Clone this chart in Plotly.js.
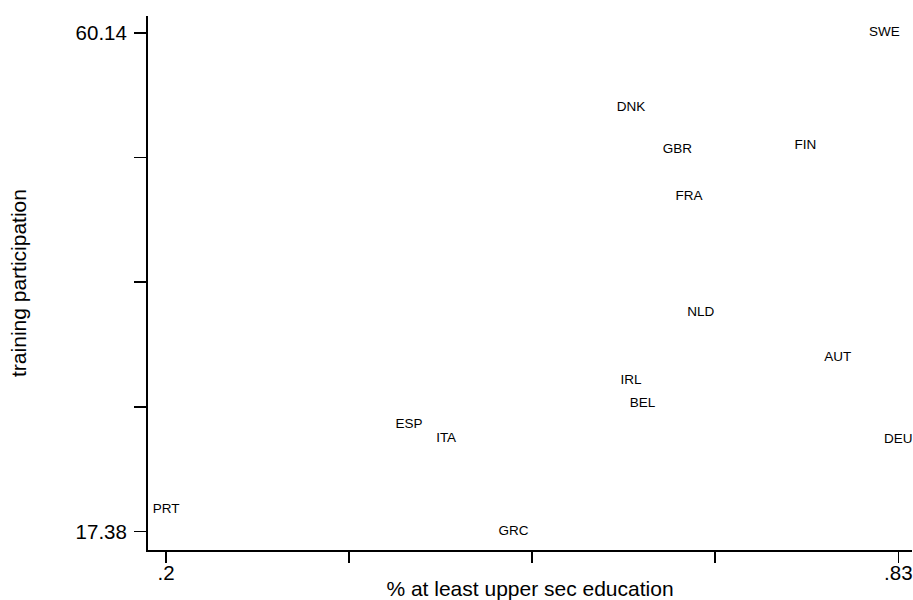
<!DOCTYPE html>
<html>
<head>
<meta charset="utf-8">
<script src="https://cdn.plot.ly/plotly-3.0.1.min.js"></script>
<style>html,body{margin:0;padding:0;background:#fff;}#chart{width:913px;height:600px;}</style>
</head>
<body>
<div id="chart"></div>
<script>
const countries = ["SWE","DNK","GBR","FIN","FRA","NLD","AUT","IRL","BEL","DEU","ESP","ITA","PRT","GRC"];
const upperSecEducation = [0.818,0.600,0.640,0.750,0.650,0.660,0.778,0.600,0.610,0.830,0.409,0.441,0.200,0.499];
const trainingParticipation = [60.14,53.77,50.10,50.45,46.13,36.18,32.26,30.31,28.32,25.25,26.54,25.31,19.22,17.38];
const xTickVals = [0.2,0.3575,0.515,0.6725,0.83];
const xTickText = [".2","","","",".83"];
const yTickVals = [17.38,28.07,38.76,49.45,60.14];
const yTickText = ["17.38","","","","60.14"];

const font = "Liberation Sans, Arial, Helvetica, sans-serif";
const trace = {
  x: upperSecEducation,
  y: trainingParticipation,
  text: countries,
  mode: "text",
  type: "scatter",
  textposition: "middle center",
  textfont: {family: font, size: 13.5, color: "#000"},
  cliponaxis: false,
  hoverinfo: "none"
};
const layout = {
  width: 913, height: 600,
  margin: {l: 148, r: 1, t: 16, b: 50, pad: 0},
  paper_bgcolor: "#fff", plot_bgcolor: "#fff",
  showlegend: false,
  font: {family: font, color: "#000"},
  xaxis: {
    range: [0.18451, 0.84177],
    tickmode: "array", tickvals: xTickVals, ticktext: xTickText,
    ticks: "outside", ticklen: 11, tickwidth: 1.6, tickcolor: "#000",
    ticklabelstandoff: -8,
    showline: true, linecolor: "#000", linewidth: 2,
    showgrid: false, zeroline: false,
    tickfont: {size: 20.5, family: font, color: "#000"},
    title: {text: "% at least upper sec education", font: {size: 21, family: font, color: "#000"}, standoff: 17}
  },
  yaxis: {
    range: [15.793, 61.598],
    tickmode: "array", tickvals: yTickVals, ticktext: yTickText,
    ticks: "outside", ticklen: 12, tickwidth: 1.6, tickcolor: "#000",
    ticklabelstandoff: 3,
    showline: true, linecolor: "#000", linewidth: 2,
    showgrid: false, zeroline: false,
    tickfont: {size: 20.5, family: font, color: "#000"},
    title: {text: "training participation", font: {size: 21, family: font, color: "#000"}, standoff: 43}
  }
};
Plotly.newPlot("chart", [trace], layout, {staticPlot: true, displayModeBar: false});
</script>
</body>
</html>
